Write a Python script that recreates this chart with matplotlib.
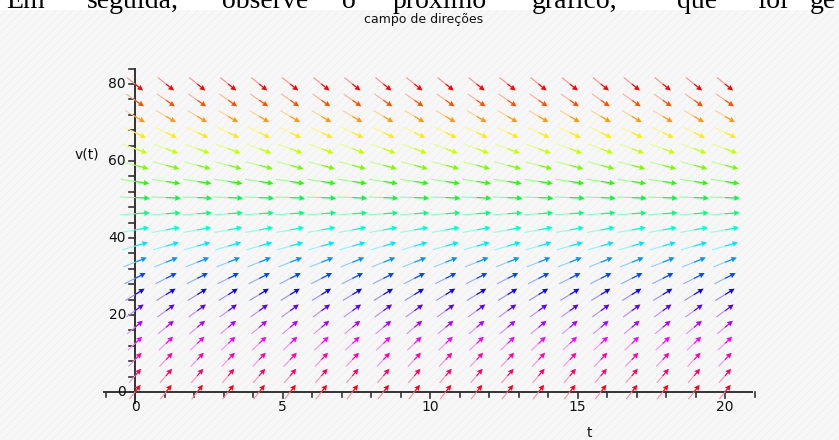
import numpy as np
import matplotlib
matplotlib.use("Agg")
import matplotlib.pyplot as plt
from matplotlib.colors import to_rgb
from matplotlib.patches import Rectangle

# direction field grid (20 x 20)
t_cols = [0.0, 1.05, 2.11, 3.16, 4.21, 5.26, 6.32, 7.37, 8.42, 9.47,
          10.53, 11.58, 12.63, 13.68, 14.74, 15.79, 16.84, 17.89, 18.95, 20.0]
v_rows = [0.0, 4.2, 8.4, 12.6, 16.8, 21.1, 25.3, 29.5, 33.7, 37.9,
          42.1, 46.3, 50.5, 54.7, 58.9, 63.2, 67.4, 71.6, 75.8, 80.0]
# dv/dt along each row
slopes = [9.8, 8.96, 8.12, 7.28, 6.44, 5.58, 4.74, 3.9, 3.06, 2.22,
          1.38, 0.54, -0.3, -1.14, -1.98, -2.84, -3.68, -4.52, -5.36, -6.2]

x_major = [0, 5, 10, 15, 20]
y_major = [0, 20, 40, 60, 80]
x_minor = list(range(-1, 22))
y_minor = list(range(-4, 85, 4))

title = "campo de direções"
xlabel = "t"
ylabel = "v(t)"
doc_words = ["Em", "seguida,", "observe", "o", "próximo", "gráfico,", "que", "foi", "ge"]
doc_x = [6, 87, 222, 342, 393, 532, 677, 757, 810]

W, H = 839, 440
fig = plt.figure(figsize=(W / 100, H / 100), dpi=100)
fig.patch.set_facecolor("white")
plt.rcParams["hatch.linewidth"] = 0.6
fig.patches.append(Rectangle((0, 0), 1, 430 / H, transform=fig.transFigure,
                             facecolor="#f7f7f7", edgecolor="#f0f0f0", hatch="////",
                             linewidth=0, zorder=-10))

# axes covering the figure: pixel x = 135 + 29.5 t, pixel y(top) = 392 - 3.85 v
ax = fig.add_axes([0, 0, 1, 1])
ax.set_xlim(-135 / 29.5, (W - 135) / 29.5)
ax.set_ylim(-(H - 392) / 3.85, 392 / 3.85)
ax.axis("off")
ax.patch.set_visible(False)

dt = (t_cols[-1] - t_cols[0]) / (len(t_cols) - 1)
dv = (v_rows[-1] - v_rows[0]) / (len(v_rows) - 1)
cmap = plt.get_cmap("hsv")
T = np.array(t_cols)
head = dict(angles="xy", scale_units="xy", scale=1, units="dots", width=1.1,
            headwidth=5, headlength=5, headaxislength=4.5)
for i, (v, s) in enumerate(zip(v_rows, slopes)):
    d = np.array([1.0, s * dt / dv])
    d = d / np.hypot(*d)
    U = np.full_like(T, 0.95 * dt * d[0])
    V = np.full_like(T, 0.95 * dv * d[1])
    Y = np.full_like(T, v)
    c = np.array(to_rgb(cmap(1 - i / 19)))
    light = c * 0.45 + 0.55
    # pale tail (whole arrow), then saturated front half with the head
    ax.quiver(T, Y, U, V, color=light, pivot="middle", zorder=3, **head)
    ax.quiver(T, Y, U / 2, V / 2, color=c, pivot="tail", zorder=4, **head)

# Maple style axes through the origin
axc = "#333333"
ax.plot([-1.05, 20.9], [0, 0], color=axc, lw=1.4, zorder=2)
ax.plot([0, 0], [-2.9, 84], color=axc, lw=1.4, zorder=2)
px_t, px_v = 1 / 29.5, 1 / 3.85
for x in x_minor:
    ln = 6 if x in x_major else 5
    ax.plot([x, x], [0, -ln * px_v], color=axc, lw=1.2, zorder=2)
for y in y_minor:
    if y < -3:
        continue
    ax.plot([-6 * px_t, 0], [y, y], color=axc, lw=1.2, zorder=2)
for x in x_major:
    ax.text(x, -15 * px_v, str(x), ha="center", va="center", fontsize=10, color="#111111")
for y in y_major:
    ax.text(-9 * px_t, y, str(y), ha="right", va="center", fontsize=10, color="#111111")

ax.text(15.4, -41 * px_v, xlabel, ha="center", va="center", fontsize=10, color="#111111")
ax.text(-1.63, 61.6, ylabel, ha="center", va="center", fontsize=10, color="#111111")
fig.text(424 / W, 1 - 20 / H, title, ha="center", va="center", fontsize=9, color="#111111")

for w, x in zip(doc_words, doc_x):
    fig.text(x / W, 1 - 8 / H, w, ha="left", va="baseline", fontsize=20,
             family="Liberation Serif", color="black")

fig.savefig("out.png", dpi=100)
